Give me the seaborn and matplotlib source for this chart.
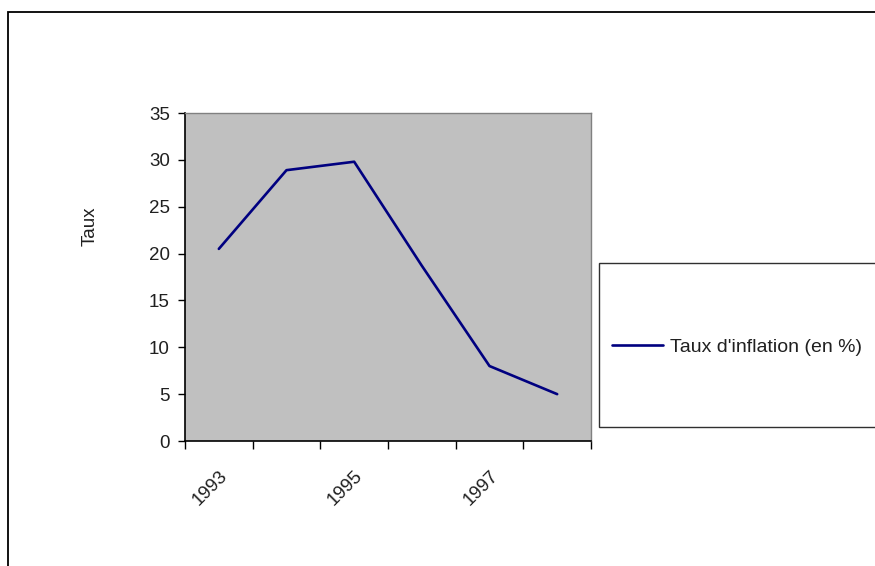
import matplotlib
matplotlib.use("Agg")
import matplotlib.pyplot as plt
import matplotlib.transforms as mtransforms
import seaborn as sns
import pandas as pd
from matplotlib.patches import Rectangle

# ---- data ----
years = [1993, 1994, 1995, 1996, 1997, 1998]
inflation = [20.5, 28.9, 29.8, 18.7, 8.0, 5.0]
shown_years = [1993, 1995, 1997]
series_name = "Taux d'inflation (en %)"
y_label = "Taux"
y_ticks = [0, 5, 10, 15, 20, 25, 30, 35]

df = pd.DataFrame({"Année": years, "Taux": inflation, "Série": series_name})

sns.set_style("white")
plt.rcParams["font.family"] = ["Liberation Sans", "DejaVu Sans"]

W, H = 875, 566
fig = plt.figure(figsize=(W / 100, H / 100), dpi=100)
ax = fig.add_axes([185 / W, 1 - 441 / H, (591 - 185) / W, (441 - 113) / H])
ax.set_facecolor("#C0C0C0")

sns.lineplot(data=df, x="Année", y="Taux", hue="Série", palette=["#000080"],
             linewidth=1.9, ax=ax, legend=True)

ax.set_xlim(years[0] - 0.5, years[-1] + 0.5)
ax.set_ylim(0, 35)
ax.set_yticks(y_ticks)
ax.set_yticklabels([str(v) for v in y_ticks], fontsize=13.5, color="#202020")
ax.set_xticks([y - 0.5 for y in years] + [years[-1] + 0.5])
ax.set_xticklabels([])
ax.set_xticks(shown_years, minor=True)
ax.set_xticklabels([str(y) for y in shown_years], minor=True, rotation=45,
                   ha="right", rotation_mode="anchor", fontsize=13.5, color="#202020")
shift = mtransforms.ScaledTranslation(-4 / 100, 0, fig.dpi_scale_trans)
for lab in ax.get_xticklabels(minor=True):
    lab.set_transform(lab.get_transform() + shift)
ax.tick_params(axis="x", which="major", direction="out", length=6, width=1, color="black", bottom=True)
ax.tick_params(axis="x", which="minor", length=0, pad=19, bottom=True)
ax.tick_params(axis="y", direction="out", length=5, width=1, color="black", pad=6, left=True)

ax.set_xlabel("")
ax.set_ylabel(y_label, fontsize=13.5, color="#202020")
ax.yaxis.set_label_coords(-0.212, 0.655)

for side in ["left", "bottom"]:
    ax.spines[side].set_color("black")
    ax.spines[side].set_linewidth(1.2)
for side in ["top", "right"]:
    ax.spines[side].set_color("#808080")
    ax.spines[side].set_linewidth(1.0)

# legend box (drawn beneath the axes/legend)
fig.patches.append(Rectangle((599 / W, 1 - 427 / H), 0.5, (427 - 263) / H,
                             transform=fig.transFigure, facecolor="white",
                             edgecolor="#303030", linewidth=1.0, zorder=-1))
handles, labels = ax.get_legend_handles_labels()
ax.legend(handles, labels, loc="center left",
          bbox_to_anchor=(612 / W, 1 - 347 / H), bbox_transform=fig.transFigure,
          frameon=False, fontsize=14, handlelength=2.6, handletextpad=0.4,
          borderpad=0, borderaxespad=0)
for t in ax.get_legend().get_texts():
    t.set_color("#202020")

# outer chart border
fig.patches.append(Rectangle((8 / W, -0.1), 1.2, 1 - 12 / H + 0.1,
                             transform=fig.transFigure, fill=False,
                             edgecolor="black", linewidth=1.3, zorder=-1))

fig.savefig("out.png", dpi=100)
